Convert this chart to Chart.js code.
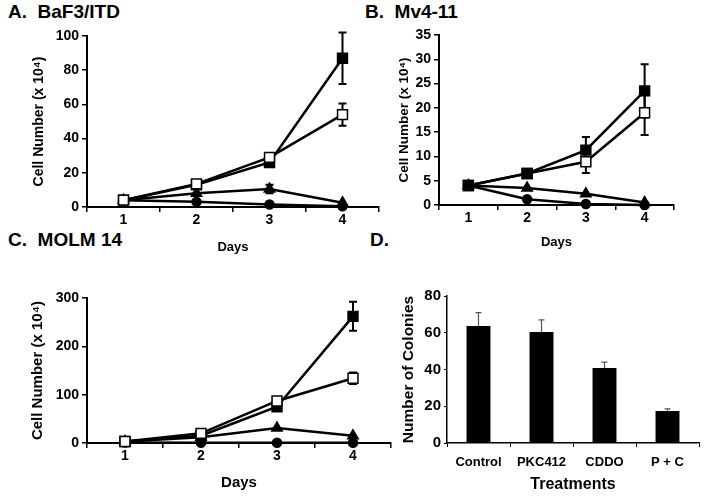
<!DOCTYPE html>
<html>
<head>
<meta charset="utf-8">
<script src="https://cdn.jsdelivr.net/npm/chart.js@4"></script>
<style>
  body { margin: 0; width: 704px; height: 496px; background: #fff; position: relative; overflow: hidden; font-family: "Liberation Sans", Arial, sans-serif; }
  canvas { position: absolute; }
  .ttl { position: absolute; font-weight: bold; font-size: 19px; white-space: pre; color: #000; }
</style>
</head>
<body>
<div class="ttl" style="left:8px;top:1px">A.  BaF3/ITD</div>
<div class="ttl" style="left:365px;top:1px">B.  Mv4-11</div>
<div class="ttl" style="left:8px;top:229px">C.  MOLM 14</div>
<div class="ttl" style="left:370px;top:229px">D.</div>
<canvas id="chartA" width="390" height="260" style="left:0;top:0"></canvas>
<canvas id="chartB" width="332" height="260" style="left:352px;top:0"></canvas>
<canvas id="chartC" width="401" height="241" style="left:0;top:255px"></canvas>
<canvas id="chartD" width="352" height="241" style="left:352px;top:255px"></canvas>
<script>
// days on the x axis
const days = ['1', '2', '3', '4'];

// A. BaF3/ITD
const aFilled = [4, 13, 26, 87];
const aFilledErr = [0, 1.5, 2, 15];
const aOpen = [4, 13.5, 29, 54];
const aOpenErr = [0, 2, 2, 6.5];
const aTri = [4, 8, 10.5, 2.5];
const aTriErr = [0, 0, 2.5, 0];
const aCirc = [4, 3, 1.5, 0.4];

// B. Mv4-11
const bFilled = [4, 6.5, 11.3, 23.5];
const bFilledErr = [0, 0, 2.7, 5.5];
const bOpen = [4, 6.5, 8.9, 19];
const bOpenErr = [0, 0, 2.3, 4.6];
const bTri = [4, 3.5, 2.3, 0.5];
const bCirc = [4, 1.2, 0.2, 0];

// C. MOLM 14
const cFilled = [3, 15, 75, 262];
const cFilledErr = [0, 0, 0, 30];
const cOpen = [3, 20, 87, 134];
const cOpenErr = [0, 0, 0, 12];
const cTri = [3, 12, 31, 15];
const cCirc = [1, 0.5, 0.5, 0.5];

// D. colonies
const treatments = ['Control', 'PKC412', 'CDDO', 'P + C'];
const colonies = [63.7, 60.4, 40.8, 17.4];
const coloniesErr = [7.3, 6.6, 3.2, 1.2];

const FONT = '"Liberation Sans", Arial, sans-serif';

// draws vertical error bars from dataset.errors
const errorBars = {
  id: 'errorBars',
  beforeDatasetsDraw(chart) {
    const ctx = chart.ctx;
    const y = chart.scales.y;
    chart.data.datasets.forEach((ds, i) => {
      if (!ds.errors) return;
      const meta = chart.getDatasetMeta(i);
      ctx.save();
      ctx.strokeStyle = ds.errColor || '#000';
      ctx.lineWidth = ds.errWidth || 2;
      meta.data.forEach((el, j) => {
        const e = ds.errors[j];
        if (!e) return;
        const v = ds.data[j];
        const top = y.getPixelForValue(v + e);
        const bot = ds.upOnly ? y.getPixelForValue(v) : y.getPixelForValue(v - e);
        const w = ds.capWidth || 4;
        ctx.beginPath();
        ctx.moveTo(el.x, top); ctx.lineTo(el.x, bot);
        ctx.moveTo(el.x - w, top); ctx.lineTo(el.x + w, top);
        if (!ds.upOnly) { ctx.moveTo(el.x - w, bot); ctx.lineTo(el.x + w, bot); }
        ctx.stroke();
      });
      ctx.restore();
    });
  }
};

function series(label, data, style, errs) {
  const ds = {
    label: label,
    data: data,
    borderColor: '#000',
    borderWidth: 2.5,
    pointStyle: style,
    pointBorderColor: '#000',
    pointBorderWidth: 1.5,
    pointBackgroundColor: '#000',
    pointRadius: 6,
    tension: 0,
    clip: false
  };
  if (style === 'open') {
    ds.pointStyle = 'rect';
    ds.pointBackgroundColor = '#fff';
    ds.pointRadius = 7;
  }
  if (style === 'rect') ds.pointRadius = 7;
  if (style === 'circle') ds.pointRadius = 4.5;
  if (errs) ds.errors = errs;
  return ds;
}

function lineChart(id, sets, ymax, step, pad, yWidth, xHeight, xFont, yFont) {
  return new Chart(document.getElementById(id), {
    type: 'line',
    data: { labels: days, datasets: sets },
    options: {
      responsive: false,
      animation: false,
      devicePixelRatio: 1,
      layout: { padding: pad },
      plugins: { legend: { display: false }, tooltip: { enabled: false } },
      scales: {
        x: {
          offset: true,
          grid: { offset: true, drawOnChartArea: false, drawTicks: true, tickLength: 5, color: '#000', lineWidth: 1.5 },
          border: { color: '#000', width: 2 },
          ticks: { color: '#000', font: { family: FONT, size: 14, weight: 'bold' }, padding: 0, maxRotation: 0 },
          title: { display: true, text: 'Days', color: '#000', font: { family: FONT, size: xFont, weight: 'bold' } },
          afterFit: s => { s.height = xHeight; }
        },
        y: {
          min: 0, max: ymax,
          grid: { drawOnChartArea: false, drawTicks: true, tickLength: 5, color: '#000', lineWidth: 1.5 },
          border: { color: '#000', width: 2 },
          ticks: { stepSize: step, color: '#000', font: { family: FONT, size: 14, weight: 'bold' }, padding: 3 },
          title: { display: true, text: 'Cell Number (x 10\u2074)', color: '#000', font: { family: FONT, size: yFont, weight: 'bold' } },
          afterFit: s => { s.width = yWidth; }
        }
      }
    },
    plugins: [errorBars]
  });
}

lineChart('chartA', [
  series('Open', aOpen, 'open', aOpenErr),
  series('Filled', aFilled, 'rect', aFilledErr),
  series('Triangle', aTri, 'triangle', aTriErr),
  series('Circle', aCirc, 'circle')
], 100, 20, { left: 27, right: 11, top: 36, bottom: 1 }, 60, 52, 13, 14);

lineChart('chartB', [
  series('Filled', bFilled, 'rect', bFilledErr),
  series('Open', bOpen, 'open', bOpenErr),
  series('Triangle', bTri, 'triangle'),
  series('Circle', bCirc, 'circle')
], 35, 5, { left: 40, right: 10, top: 35, bottom: 6 }, 47, 49, 13, 13.5);

lineChart('chartC', [
  series('Open', cOpen, 'open', cOpenErr),
  series('Filled', cFilled, 'rect', cFilledErr),
  series('Triangle', cTri, 'triangle'),
  series('Circle', cCirc, 'circle')
], 300, 100, { left: 25, right: 10, top: 43, bottom: 0 }, 62, 53, 15, 15);

new Chart(document.getElementById('chartD'), {
  type: 'bar',
  data: {
    labels: treatments,
    datasets: [{
      label: 'Colonies',
      data: colonies,
      errors: coloniesErr,
      upOnly: true,
      errColor: '#555',
      errWidth: 1.2,
      capWidth: 3,
      backgroundColor: '#000',
      borderWidth: 0,
      categoryPercentage: 1,
      barPercentage: 0.38
    }]
  },
  options: {
    responsive: false,
    animation: false,
    devicePixelRatio: 1,
    layout: { padding: { left: 43, right: 5, top: 41, bottom: 0 } },
    plugins: { legend: { display: false }, tooltip: { enabled: false } },
    scales: {
      x: {
        grid: { offset: true, drawOnChartArea: false, drawTicks: true, tickLength: 4, color: '#000', lineWidth: 1 },
        border: { color: '#000', width: 1.5 },
        ticks: { color: '#000', font: { family: FONT, size: 13, weight: 'bold' }, padding: 8, maxRotation: 0 },
        title: { display: true, text: 'Treatments', color: '#000', font: { family: FONT, size: 16, weight: 'bold' }, padding: { top: 0, bottom: 2 } },
        afterFit: s => { s.height = 53; }
      },
      y: {
        min: 0, max: 80,
        grid: { drawOnChartArea: false, drawTicks: true, tickLength: 3, color: '#000', lineWidth: 1 },
        border: { color: '#000', width: 1.5 },
        ticks: {
          stepSize: 10, color: '#000', font: { family: FONT, size: 15, weight: 'bold' }, padding: 3,
          callback: v => (v % 20 === 0 ? v : '')
        },
        title: { display: true, text: 'Number of Colonies', color: '#000', font: { family: FONT, size: 15.5, weight: 'bold' } },
        afterFit: s => { s.width = 52; }
      }
    }
  },
  plugins: [errorBars]
});
</script>
</body>
</html>
